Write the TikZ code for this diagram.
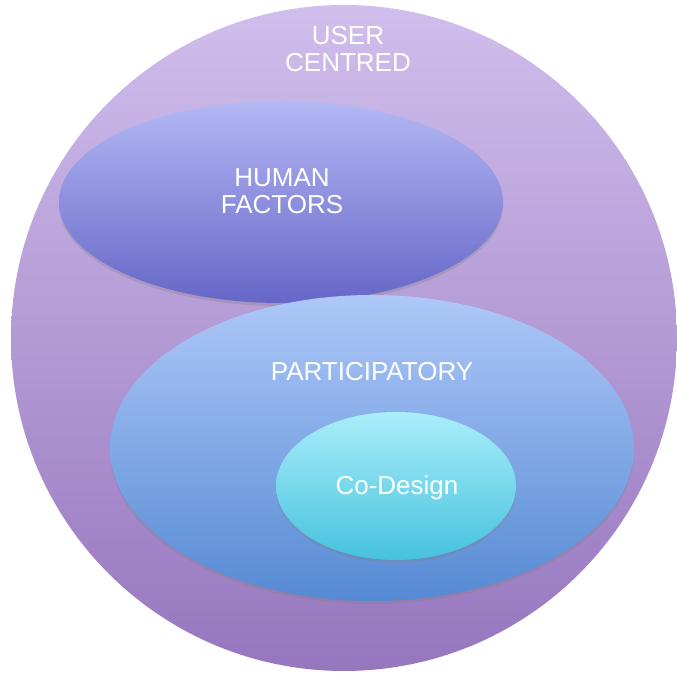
\documentclass[tikz,border=0pt]{standalone}
\usepackage{fontspec}
\setmainfont{Liberation Sans}
\usetikzlibrary{shapes.geometric,shadows}

\definecolor{ucTop}{RGB}{208,190,236}
\definecolor{ucBottom}{RGB}{150,118,190}
\definecolor{hfTop}{RGB}{180,184,244}
\definecolor{hfBottom}{RGB}{102,102,200}
\definecolor{ptTop}{RGB}{174,200,248}
\definecolor{ptBottom}{RGB}{86,138,212}
\definecolor{cdTop}{RGB}{170,238,250}
\definecolor{cdBottom}{RGB}{70,194,222}

\begin{document}
\begin{tikzpicture}
    [
      x=1pt, y=1pt,
      region/.style={ellipse,inner sep=0pt,draw=none},
      soft/.style={drop shadow={opacity=0.3,shadow xshift=0pt,shadow yshift=-3pt}},
      caption/.style={text=white,inner sep=0pt,align=center,font=\fontsize{26}{27}\selectfont},
    ]

    \useasboundingbox (0,0) rectangle (677,676);

    \node (user-centred) [circle,inner sep=0pt,minimum size=666pt,top color=ucTop,bottom color=ucBottom] at (344,338) {};

    \node (human-factors) [region,soft,minimum width=444pt,minimum height=202pt,top color=hfTop,bottom color=hfBottom] at (281,474) {};

    \node (participatory) [region,soft,minimum width=524pt,minimum height=306pt,top color=ptTop,bottom color=ptBottom] at (372,228) {};

    \node (co-design) [region,soft,minimum width=240pt,minimum height=148pt,top color=cdTop,bottom color=cdBottom] at (396,190) {};

    \node (user-centred-text) [caption] at (348,627) {USER\\CENTRED};
    \node (human-factors-text) [caption] at (282,485) {HUMAN\\FACTORS};
    \node (participatory-text) [caption] at (372,304) {PARTICIPATORY};
    \node (co-design-text) [caption] at (397,188) {Co-Design};

\end{tikzpicture}
\end{document}
